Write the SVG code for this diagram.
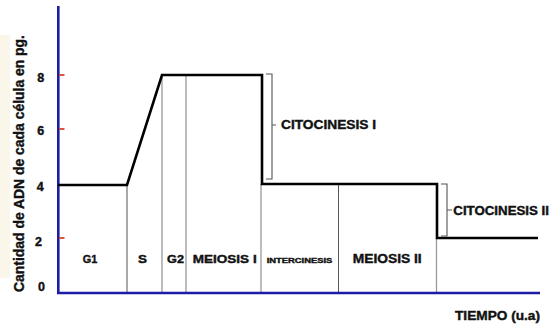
<svg xmlns="http://www.w3.org/2000/svg" width="553" height="328" viewBox="0 0 553 328">
<style>
text{font-family:"Liberation Sans",Arial,sans-serif;font-weight:bold;fill:#111;stroke:#111;stroke-width:0.4}
.ax{stroke:#1c1ca6;stroke-width:2.6;fill:none}
.tick{stroke:#d4452a;stroke-width:1.8}
.div{stroke:#999;stroke-width:1.3}
.divd{stroke:#555;stroke-width:1}
.br{stroke:#555;stroke-width:1.1;fill:none}
.data{stroke:#000;stroke-width:2.6;fill:none;stroke-linejoin:miter}
.num{font-size:12.5px;text-anchor:middle}
.ph{font-size:11.5px}
</style>
<rect width="553" height="328" fill="#fff"/>
<rect x="0" y="35" width="10" height="243" fill="#faf6ea"/>
<g id="y-label">
<text transform="translate(23.5,292) rotate(-90)" font-size="14" textLength="257" lengthAdjust="spacingAndGlyphs">Cantidad de ADN de cada célula en pg.</text>
</g>
<g id="phase-dividers">
<line class="divd" x1="127" y1="185" x2="127" y2="293"/>
<line class="div" x1="162" y1="75" x2="162" y2="293"/>
<line class="div" x1="186" y1="75" x2="186" y2="293"/>
<line class="div" x1="261" y1="184" x2="261" y2="293"/>
<line class="divd" x1="338.5" y1="184" x2="338.5" y2="293"/>
<line class="div" x1="436.5" y1="238" x2="436.5" y2="293"/>
</g>
<g id="axes">
<line class="ax" x1="58.3" y1="6" x2="58.3" y2="294"/>
<line class="ax" x1="57" y1="293" x2="540" y2="293"/>
<line class="tick" x1="59" y1="75" x2="64.5" y2="75"/>
<line class="tick" x1="59" y1="129" x2="64.5" y2="129"/>
<line class="tick" x1="59" y1="238" x2="64.5" y2="238"/>
<text class="num" x="40.7" y="82">8</text>
<text class="num" x="40.8" y="134.5">6</text>
<text class="num" x="40.3" y="191">4</text>
<text class="num" x="38.5" y="246">2</text>
<text class="num" x="41.5" y="291">0</text>
<text x="455" y="320" font-size="12.5" textLength="85" lengthAdjust="spacingAndGlyphs">TIEMPO (u.a)</text>
</g>
<g id="connectors">
<path id="dna-curve" class="data" d="M58,185 H127 L162,75 H262 V184 H437 V238 H538"/>
<path id="bracket-citocinesis-1" class="br" d="M266,74 H272 V179 H266 M272,125 H276"/>
<path id="bracket-citocinesis-2" class="br" d="M441,184 H447 V236 H441 M447,210 H452"/>
</g>
<g id="node-g1"><text class="ph" x="82.7" y="263.3" textLength="14.6" lengthAdjust="spacingAndGlyphs">G1</text></g>
<g id="node-s"><text class="ph" x="138" y="263.3" textLength="9" lengthAdjust="spacingAndGlyphs">S</text></g>
<g id="node-g2"><text class="ph" x="167" y="263.3" textLength="17" lengthAdjust="spacingAndGlyphs">G2</text></g>
<g id="node-meiosis-1"><text class="ph" x="192.7" y="263.3" textLength="64" lengthAdjust="spacingAndGlyphs">MEIOSIS I</text></g>
<g id="node-intercinesis"><text x="266.7" y="262.7" font-size="7.2" textLength="65.6" lengthAdjust="spacingAndGlyphs">INTERCINESIS</text></g>
<g id="node-meiosis-2"><text x="352.7" y="263.3" font-size="13" textLength="69" lengthAdjust="spacingAndGlyphs">MEIOSIS II</text></g>
<g id="node-citocinesis-1"><text x="281" y="129" font-size="12.5" textLength="95" lengthAdjust="spacingAndGlyphs">CITOCINESIS I</text></g>
<g id="node-citocinesis-2"><text x="453.3" y="215" font-size="12" textLength="95.7" lengthAdjust="spacingAndGlyphs">CITOCINESIS II</text></g>
</svg>
